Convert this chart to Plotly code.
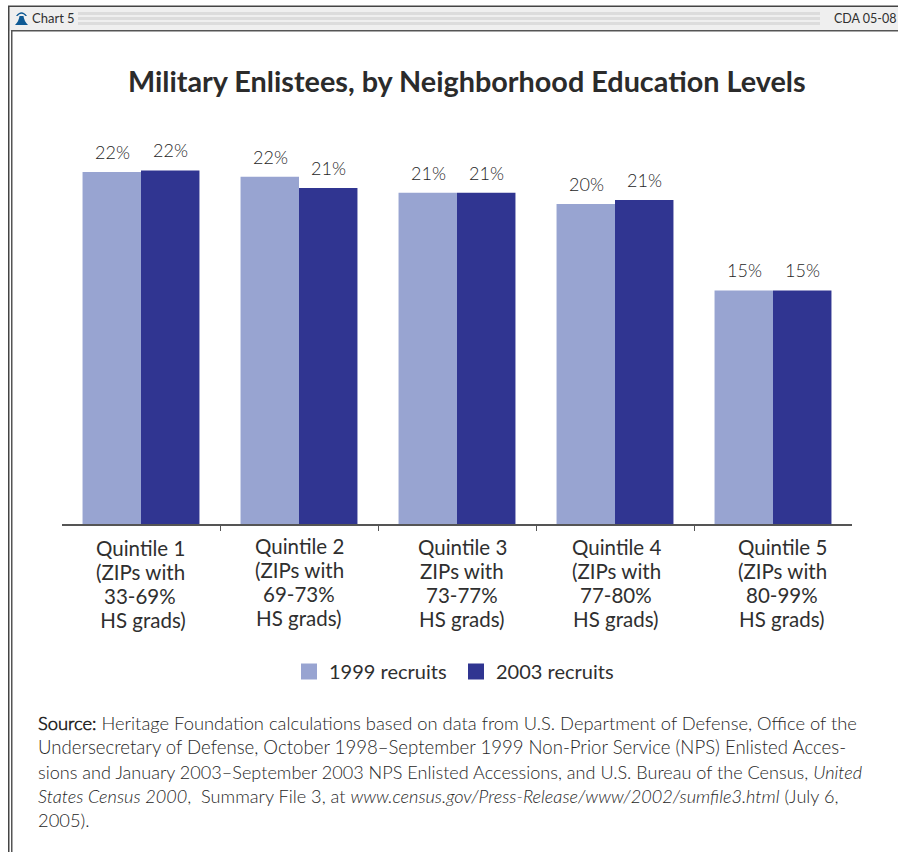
import plotly.graph_objects as go

W, H = 898, 852

categories = ["Quintile 1", "Quintile 2", "Quintile 3", "Quintile 4", "Quintile 5"]
category_labels = [
    ["Quintile 1", "(ZIPs with", "33-69%", " HS grads)"],
    ["Quintile 2", "(ZIPs with", "69-73%", "HS grads)"],
    ["Quintile 3", "ZIPs with", "73-77%", "HS grads)"],
    ["Quintile 4", "(ZIPs with", "77-80%", "HS grads)"],
    ["Quintile 5", "(ZIPs with", "80-99%", "HS grads)"],
]
recruits_1999 = [22.0, 21.7, 20.7, 20.0, 14.6]
recruits_2003 = [22.1, 21.0, 20.7, 20.25, 14.6]
labels_1999 = ["22%", "22%", "21%", "20%", "15%"]
labels_2003 = ["22%", "21%", "21%", "21%", "15%"]
title_text = "Military Enlistees, by Neighborhood Education Levels"
source_lines = [
    "<b>Source:</b> Heritage Foundation calculations based on data from U.S. Department of Defense, Office of the",
    "Undersecretary of Defense, October 1998–September 1999 Non-Prior Service (NPS) Enlisted Acces-",
    "sions and January 2003–September 2003 NPS Enlisted Accessions, and U.S. Bureau of the Census, <i>United</i>",
    "<i>States Census 2000</i>,  Summary File 3, at <i>www.census.gov/Press-Release/www/2002/sumfile3.html</i> (July 6,",
    "2005).",
]

LIGHT, DARK = "#98a4d1", "#303591"
TXT = "#2f2f2f"
FONT = "Lato"
LIGHTFONT = "Lato Light, Lato"

px = lambda v: v / W
py = lambda v: 1 - v / H

fig = go.Figure()
ann = []
for name, vals, labs, col, shift in [("1999 recruits", recruits_1999, labels_1999, LIGHT, -29),
                                     ("2003 recruits", recruits_2003, labels_2003, DARK, 29)]:
    fig.add_bar(x=categories, y=vals, name=name, marker=dict(color=col, line=dict(width=0)), showlegend=False)
    fig.add_scatter(x=[None], y=[None], mode="markers", name=name,
                    marker=dict(symbol="square", size=16, color=col))
    for c, v, lab in zip(categories, vals, labs):
        ann.append(dict(x=c, xref="x", y=v, yref="y", text=lab, showarrow=False, xanchor="center",
                        yanchor="middle", xshift=shift, yshift=20,
                        font=dict(family=LIGHTFONT, size=18, color="#262626")))

xshift = [-1, 0, 5, 1, 9]
ystart = [548, 546, 547, 547, 547]
for c, lines, dx, y0 in zip(categories, category_labels, xshift, ystart):
    for i, line in enumerate(lines):
        ann.append(dict(x=c, xref="x", y=py(y0 + 24 * i), yref="paper", text=line, showarrow=False, xanchor="center",
                        yanchor="middle", xshift=dx, align="center", font=dict(family=FONT, size=20.5, color=TXT)))
ann.append(dict(x=px(467), y=py(81), xref="paper", yref="paper", text="<b>" + title_text + "</b>", showarrow=False,
                xanchor="center", yanchor="middle", font=dict(family=FONT, size=28.8, color="#2b2b2b")))
for line, y, size in zip(source_lines, [723, 747, 772, 796, 820], [18.35, 18.6, 18.1, 18.15, 18.35]):
    ann.append(dict(x=px(36), y=py(y), xref="paper", yref="paper", text=line, showarrow=False, xanchor="left",
                    yanchor="middle", font=dict(family=LIGHTFONT, size=size, color="#262626")))
ann.append(dict(x=px(30), y=py(18.5), xref="paper", yref="paper", text="Chart 5", showarrow=False, xanchor="left",
                yanchor="middle", font=dict(family=FONT, size=13, color=TXT)))
ann.append(dict(x=px(832), y=py(18.5), xref="paper", yref="paper", text="CDA 05-08", showarrow=False, xanchor="left",
                yanchor="middle", font=dict(family=FONT, size=12.5, color=TXT)))


def rect(x0, y0, x1, y1, col):
    return dict(type="rect", xref="paper", yref="paper", x0=px(x0), x1=px(x1), y0=py(y0), y1=py(y1),
                fillcolor=col, line=dict(width=0), layer="below")


shapes = [rect(8, 6, W, 31, "#efefef")]
for y in (12, 17, 22):
    shapes.append(rect(78, y, 820, y + 3, "#dcdcdc"))
shapes += [rect(8, 5.5, W, 7, "#444444"), rect(11, 30, W, 31.5, "#555555"),
           rect(8, 6, 9.5, H, "#444444"), rect(11, 31, 12.5, H, "#555555")]
# bell icon
pts = lambda s: " ".join(
    tok if tok.isalpha() else "{},{}".format(px(float(tok.split(",")[0])), py(float(tok.split(",")[1])))
    for tok in s.split()
)
bell_body = pts("M 15,25 Q 19,21 19.5,16 L 23.5,16 Q 24,21 28,25 Z")
bell_arch = pts("M 16,16 Q 21.5,8.5 27,16 L 25.5,16 Q 21.5,11.5 17.5,16 Z")
for p in (bell_body, bell_arch):
    shapes.append(dict(type="path", xref="paper", yref="paper", path=p, fillcolor="#0f5a94", line=dict(width=0)))

fig.update_layout(
    width=W, height=H, margin=dict(l=0, r=0, t=0, b=0), autosize=False,
    paper_bgcolor="white", plot_bgcolor="white", barmode="group", bargap=0.26, bargroupgap=0,
    font=dict(family=FONT, color=TXT),
    xaxis=dict(domain=[px(62), px(852)], type="category", showgrid=False, zeroline=False, showline=True,
               linecolor="#555555", linewidth=1.5, ticks="outside", ticklen=5, tickcolor="#555555",
               tickmode="array", tickvals=[0.5, 1.5, 2.5, 3.5], ticktext=["", "", "", ""], anchor="y"),
    yaxis=dict(domain=[py(524), py(124)], range=[0, 25], visible=False),
    legend=dict(orientation="h", x=px(289), y=py(652), xanchor="left", yanchor="top", entrywidth=122,
                entrywidthmode="pixels",
                font=dict(family=FONT, size=20, color=TXT), itemclick=False, bgcolor="rgba(0,0,0,0)"),
    annotations=ann, shapes=shapes,
)
fig.write_html("out.html", config={"displayModeBar": False}, post_script="document.body.style.margin='0';")
